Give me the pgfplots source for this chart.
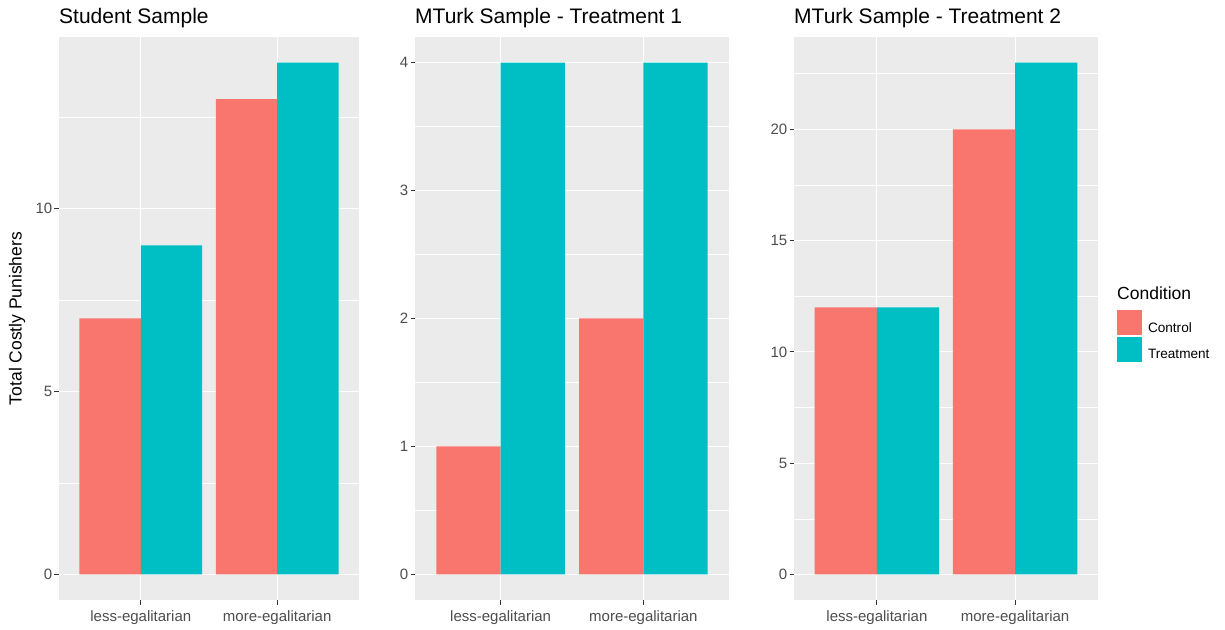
\documentclass[border=0pt]{standalone}
\usepackage{fontspec}
\setmainfont{Liberation Sans}
\usepackage{pgfplots}
\pgfplotsset{compat=1.18}

\definecolor{ctrl}{HTML}{F8766D}
\definecolor{treat}{HTML}{00BFC4}
\definecolor{panelbg}{HTML}{EBEBEB}
\definecolor{axtext}{HTML}{4D4D4D}
\definecolor{axtick}{HTML}{333333}

% ggplot2 theme_grey look-alike
\pgfplotsset{
  ggpanel/.style={
    scale only axis, height=563pt,
    xmin=0.4, xmax=2.6,
    xtick={1,2}, xticklabels={less-egalitarian,more-egalitarian},
    tick pos=left, tick align=outside,
    major tick length=4.5pt, minor tick length=0pt,
    major tick style={draw=axtick, line width=1pt},
    axis line style={draw=none},
    axis background/.style={fill=panelbg},
    xmajorgrids, ymajorgrids, yminorgrids,
    major grid style={white, line width=1.1pt},
    minor grid style={white, line width=0.55pt},
    ybar, bar width=0.45,
    tick label style={font=\fontsize{15}{18}\selectfont, text=axtext, inner sep=0pt},
    xticklabel style={yshift=-6pt},
    yticklabel style={xshift=-2pt},
    /pgf/number format/assume math mode=true,
    % default title style already shifts 6pt up
    title style={at={(0,1)}, anchor=base west, yshift=7pt, inner sep=0pt,
      font=\fontsize{21}{25}\selectfont},
  },
  ctrlbar/.style={fill=ctrl, draw=none, bar shift=-0.225,
    legend image code/.code={\fill[##1] (0pt,-7pt) rectangle (25pt,18pt);}},
  treatbar/.style={fill=treat, draw=none, bar shift=0.225,
    legend image code/.code={\fill[##1] (0pt,-7pt) rectangle (25pt,18pt);}},
}

\begin{document}
\begin{tikzpicture}
\useasboundingbox (0,0) rectangle (1225pt,629pt);

\begin{axis}[ggpanel, at={(59pt,29pt)}, anchor=south west, width=300pt,
  ymin=-0.7, ymax=14.7, ytick={0,5,10}, minor ytick={2.5,7.5,12.5},
  title={Student Sample},
  ylabel={Total Costly Punishers},
  ylabel style={at={(axis description cs:-0.14,0.5)}, anchor=center, inner sep=0pt,
    font=\fontsize{17.5}{21}\selectfont}]
\addplot[ctrlbar] coordinates {(1,7) (2,13)};
\addplot[treatbar] coordinates {(1,9) (2,14)};
\end{axis}

\begin{axis}[ggpanel, at={(415pt,29pt)}, anchor=south west, width=314pt,
  ymin=-0.2, ymax=4.2, ytick={0,1,2,3,4}, minor ytick={0.5,1.5,2.5,3.5},
  title={MTurk Sample - Treatment 1}]
\addplot[ctrlbar] coordinates {(1,1) (2,2)};
\addplot[treatbar] coordinates {(1,4) (2,4)};
\end{axis}

\begin{axis}[ggpanel, at={(794pt,29pt)}, anchor=south west, width=304pt,
  ymin=-1.15, ymax=24.15, ytick={0,5,10,15,20}, minor ytick={2.5,7.5,12.5,17.5,22.5},
  title={MTurk Sample - Treatment 2},
  legend style={at={(1.0625,0.5151)}, anchor=north west, draw=none, fill=none,
    inner sep=0pt, outer sep=0pt, row sep=2pt, column sep=6pt,
    font=\fontsize{13.6}{16}\selectfont, nodes={inner sep=0pt}, cells={anchor=west}}]
\addplot[ctrlbar] coordinates {(1,12) (2,20)};
\addlegendentry{Control}
\addplot[treatbar] coordinates {(1,12) (2,23)};
\addlegendentry{Treatment}
\end{axis}

\node[anchor=base west, inner sep=0pt, font=\fontsize{17.5}{21}\selectfont] at (1117pt,329pt) {Condition};
\end{tikzpicture}
\end{document}
